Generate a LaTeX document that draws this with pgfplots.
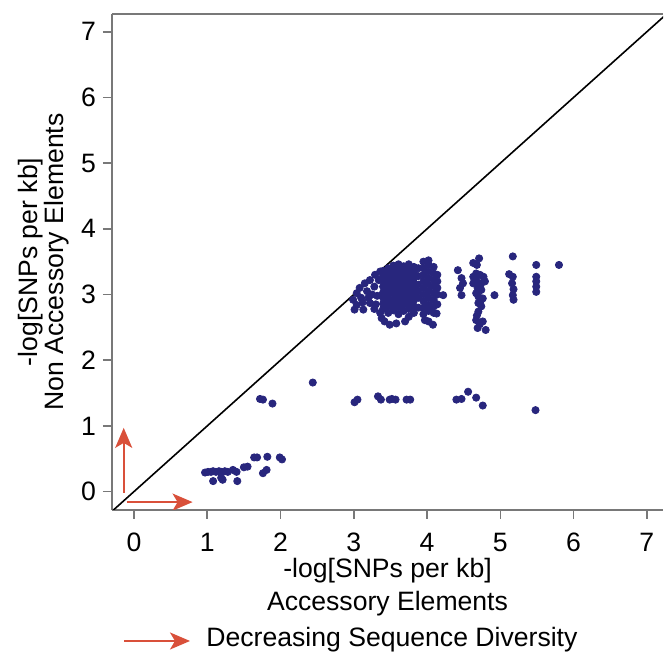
\documentclass[border=0pt]{standalone}
\usepackage{pgfplots}
\pgfplotsset{compat=1.18}
\usepackage{fontspec}
\setmainfont{Liberation Sans}
\usetikzlibrary{arrows.meta}
\definecolor{dotblue}{RGB}{40,38,125}
\definecolor{arrred}{RGB}{217,80,58}
\definecolor{axgray}{RGB}{120,120,120}
\begin{document}
\begin{tikzpicture}
\path[use as bounding box] (-56pt,-73pt) rectangle (276pt,255pt);
\begin{axis}[
  at={(0pt,0pt)}, anchor=south west,
  scale only axis, width=275.5pt, height=248pt,
  xmin=-0.30, xmax=7.22, ymin=-0.28, ymax=7.27,
  axis lines=left, axis line style={-, axgray, line width=0.8pt},
  xtick={0,...,7}, ytick={0,...,7},
  tick align=outside, major tick length=4.5pt,
  tick style={axgray, line width=0.8pt},
  font=\fontsize{13.3}{15}\selectfont,
  tick label style={font=\fontsize{13.3}{15}\selectfont},
  xticklabel style={yshift=-3.5pt},
  /pgf/number format/assume math mode=true,
  xlabel={-log[SNPs per kb]\\Accessory Elements},
  xlabel style={align=center, font=\fontsize{13.3}{16.5}\selectfont, yshift=3.5pt},
  ylabel={-log[SNPs per kb]\\Non Accessory Elements},
  ylabel style={align=center, font=\fontsize{13.3}{13.3}\selectfont, yshift=-1pt},
]
\draw[axgray, line width=0.8pt] (rel axis cs:0,1) -- (rel axis cs:1,1);
\addplot[black, line width=0.8pt] coordinates {(-0.5,-0.5) (7.5,7.5)};
\addplot[arrred, line width=1pt, -{Stealth[length=10pt,width=8.5pt,inset=2.5pt]}] coordinates {(-0.14,-0.02) (-0.14,0.97)};
\addplot[arrred, line width=1pt, -{Stealth[length=10pt,width=8.5pt,inset=2.5pt]}] coordinates {(-0.10,-0.16) (0.80,-0.16)};
\addplot[only marks, mark=*, mark size=1.8pt, color=dotblue, mark options={draw=dotblue, fill=dotblue}] table {
x y
2.44 1.66
1.72 1.41
1.76 1.40
1.89 1.34
1.64 0.52
1.68 0.52
1.82 0.53
1.99 0.52
2.02 0.49
1.50 0.37
1.55 0.38
1.35 0.33
1.40 0.30
1.76 0.28
1.81 0.33
0.97 0.29
1.01 0.30
1.05 0.30
1.08 0.31
1.12 0.30
1.16 0.31
1.19 0.30
1.24 0.31
1.28 0.30
1.08 0.16
1.21 0.18
1.19 0.21
1.41 0.16
3.01 1.36
3.05 1.40
3.33 1.45
3.37 1.40
3.49 1.40
3.52 1.41
3.57 1.40
3.72 1.40
3.77 1.40
4.40 1.40
4.47 1.41
4.56 1.52
4.67 1.43
4.76 1.31
5.48 1.24
4.42 3.37
4.47 3.25
4.49 3.17
4.45 3.10
4.47 2.99
4.63 3.48
4.63 3.27
4.63 3.17
4.71 3.55
4.68 3.45
4.67 3.32
4.72 3.30
4.77 3.27
4.68 3.20
4.74 3.17
4.79 3.20
4.69 3.10
4.74 3.07
4.67 3.02
4.70 2.97
4.76 2.94
4.92 2.99
4.70 2.87
4.74 2.82
4.70 2.74
4.67 2.61
4.76 2.59
4.69 2.49
4.80 2.46
4.72 3.12
4.66 3.25
4.73 2.90
4.68 2.68
4.72 2.55
5.17 3.58
5.12 3.31
5.17 3.27
5.16 3.17
5.18 3.08
5.17 2.99
5.18 2.92
5.49 3.45
5.49 3.27
5.49 3.20
5.49 3.12
5.49 3.04
5.80 3.45
2.99 2.92
3.04 3.02
3.08 3.10
3.15 3.17
3.22 3.22
3.29 3.30
3.36 3.35
3.01 2.77
3.13 2.77
3.04 2.84
3.22 2.87
3.10 2.95
3.18 3.05
3.12 2.88
3.25 3.00
3.28 3.12
3.20 2.95
3.30 2.85
3.34 3.22
3.32 2.98
3.28 2.78
3.36 2.72
3.38 2.64
3.42 2.59
3.49 2.54
3.58 2.56
3.70 2.59
3.40 2.78
3.40 2.86
3.40 2.95
3.40 3.03
3.40 3.12
3.40 3.20
3.40 3.28
3.40 3.36
3.47 2.72
3.47 2.82
3.47 2.90
3.47 2.99
3.47 3.07
3.47 3.16
3.47 3.24
3.47 3.33
3.47 3.40
3.54 2.76
3.54 2.85
3.54 2.93
3.54 3.02
3.54 3.10
3.54 3.19
3.54 3.27
3.54 3.36
3.54 3.44
3.61 2.70
3.61 2.80
3.61 2.88
3.61 2.97
3.61 3.05
3.61 3.14
3.61 3.22
3.61 3.31
3.61 3.39
3.61 3.46
3.68 2.75
3.68 2.84
3.68 2.92
3.68 3.01
3.68 3.09
3.68 3.18
3.68 3.26
3.68 3.35
3.68 3.43
3.75 2.66
3.75 2.78
3.75 2.87
3.75 2.96
3.75 3.04
3.75 3.13
3.75 3.21
3.75 3.30
3.75 3.38
3.75 3.46
3.82 2.72
3.82 2.82
3.82 2.91
3.82 3.00
3.82 3.08
3.82 3.17
3.82 3.25
3.82 3.34
3.82 3.42
3.88 2.80
3.88 2.95
3.88 3.05
3.88 3.15
3.88 3.28
3.88 3.40
3.95 2.70
3.95 2.80
3.95 2.90
3.95 3.00
3.95 3.10
3.95 3.20
3.95 3.30
3.95 3.40
3.95 3.50
4.02 2.75
4.02 2.85
4.02 2.95
4.02 3.05
4.02 3.15
4.02 3.25
4.02 3.35
4.02 3.45
4.02 3.52
4.09 2.72
4.09 2.82
4.09 2.92
4.09 3.02
4.09 3.12
4.09 3.22
4.09 3.32
4.09 3.42
4.14 2.85
4.14 3.00
4.14 3.10
4.14 3.20
4.14 3.30
4.13 2.71
3.97 2.61
4.02 2.59
4.08 2.54
4.22 2.99
};
\end{axis}
\draw[arrred, line width=1pt, -{Stealth[length=10pt,width=8.5pt,inset=2.5pt]}] (6pt,-65.5pt) -- (39pt,-65.5pt);
\node[anchor=west, inner sep=0pt, font=\fontsize{13.3}{15}\selectfont] at (47pt,-65pt) {Decreasing Sequence Diversity};
\end{tikzpicture}
\end{document}
